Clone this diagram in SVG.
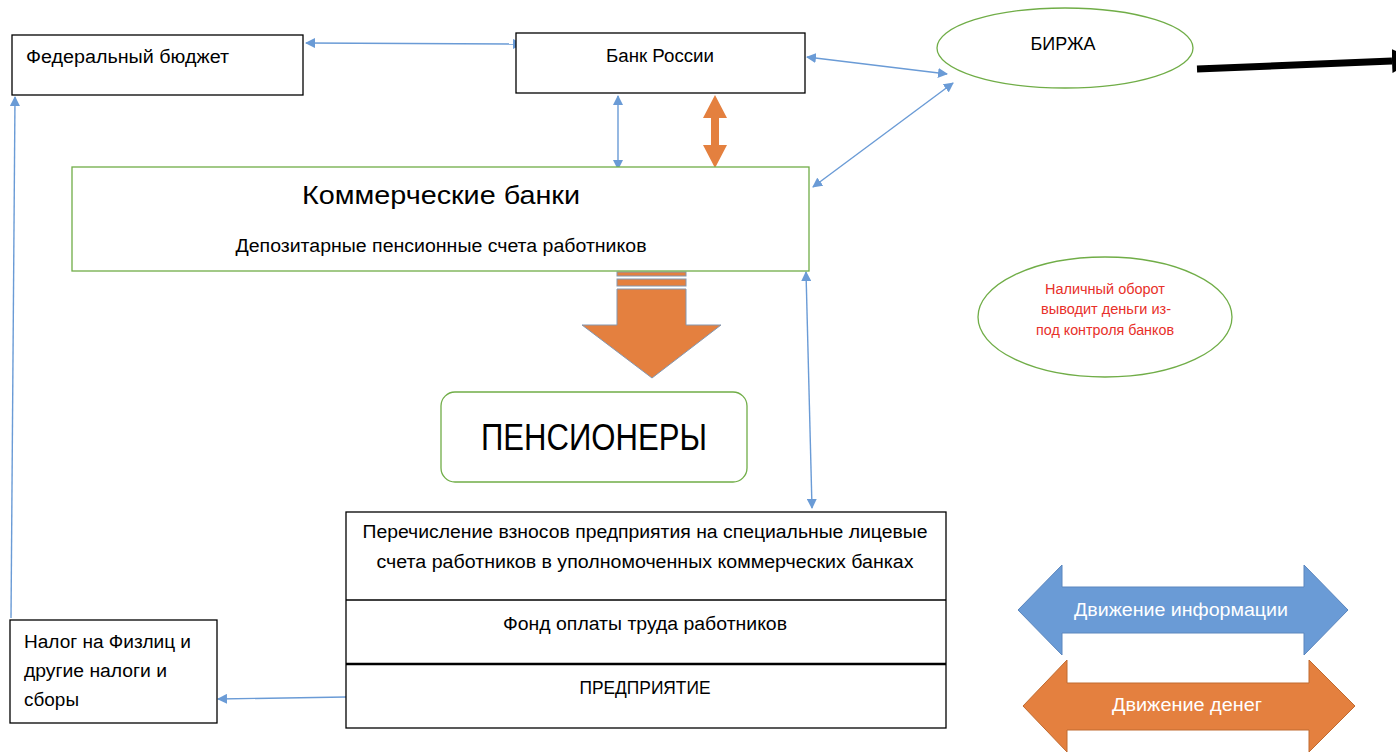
<svg xmlns="http://www.w3.org/2000/svg" width="1396" height="753" viewBox="0 0 1396 753">
<style>
text{font-family:"Liberation Sans",Arial,sans-serif;fill:#000}
.box{fill:#fff;stroke:#000;stroke-width:1.3}
.gbox{fill:#fff;stroke:#70AD47;stroke-width:1.3}
.link{fill:none;stroke:#6A9BD6;stroke-width:1.4}
.lbl{font-size:18px}
.c{text-anchor:middle}
</style>
<defs>
<marker id="ah" viewBox="0 0 10 10" refX="9" refY="5" markerWidth="10" markerHeight="10" markerUnits="userSpaceOnUse" orient="auto-start-reverse">
<path d="M0,0 L10,5 L0,10 Z" fill="#6A9BD6"/>
</marker>
<marker id="bh" viewBox="0 0 10 10" refX="0" refY="5" markerWidth="24" markerHeight="25" markerUnits="userSpaceOnUse" orient="auto">
<path d="M0,0 L10,5 L0,10 Z" fill="#000"/>
</marker>
</defs>
<rect width="1396" height="753" fill="#fff"/>

<g id="connectors">
<line class="link" x1="306" y1="43" x2="522" y2="44" marker-start="url(#ah)" marker-end="url(#ah)"/>
<line class="link" x1="807" y1="57" x2="947" y2="74" marker-start="url(#ah)" marker-end="url(#ah)"/>
<line class="link" x1="813" y1="187" x2="953" y2="83" marker-start="url(#ah)" marker-end="url(#ah)"/>
<line class="link" x1="618" y1="96" x2="618" y2="169" marker-start="url(#ah)" marker-end="url(#ah)"/>
<line class="link" x1="806" y1="272" x2="812" y2="508" marker-start="url(#ah)" marker-end="url(#ah)"/>
<line class="link" x1="11" y1="618" x2="15" y2="97" marker-end="url(#ah)"/>
<line class="link" x1="346" y1="697" x2="218" y2="699" marker-end="url(#ah)"/>
<line x1="1197" y1="69" x2="1392" y2="61" stroke="#000" stroke-width="7" marker-end="url(#bh)"/>
<path d="M703,118 L715,95 L727,118 L719,118 L719,145 L727,145 L715,168 L703,145 L711,145 L711,118 Z" fill="#E4803F"/>
<g id="big-down-arrow" fill="#E4803F" stroke="#8497B0" stroke-width="1">
<rect x="617" y="272" width="69" height="4"/>
<rect x="617" y="279" width="69" height="7"/>
<path d="M617,289 L686,289 L686,325 L721,325 L652,378 L582,325 L617,325 Z"/>
</g>
</g>

<g id="federal-budget">
<rect class="box" x="12" y="35" width="291" height="60"/>
<text class="lbl" x="26" y="63" textLength="203" lengthAdjust="spacingAndGlyphs">Федеральный бюджет</text>
</g>

<g id="bank-russia">
<rect class="box" x="516" y="33" width="289" height="60"/>
<text class="lbl c" x="660" y="62" textLength="108" lengthAdjust="spacingAndGlyphs">Банк России</text>
</g>

<g id="birzha">
<ellipse cx="1065" cy="48" rx="128" ry="40" fill="#fff" stroke="#70AD47" stroke-width="1.3"/>
<text class="lbl c" x="1063" y="50" textLength="65" lengthAdjust="spacingAndGlyphs">БИРЖА</text>
</g>

<g id="commercial-banks">
<rect class="gbox" x="72" y="167" width="737" height="104"/>
<text class="c" x="441" y="204" font-size="26" textLength="278" lengthAdjust="spacingAndGlyphs">Коммерческие банки</text>
<text class="c" x="441" y="252" font-size="18" textLength="411" lengthAdjust="spacingAndGlyphs">Депозитарные пенсионные счета работников</text>
</g>

<g id="pensioners">
<rect class="gbox" x="441" y="392" width="306" height="90" rx="14"/>
<text class="c" x="594" y="450" font-size="36" textLength="226" lengthAdjust="spacingAndGlyphs">ПЕНСИОНЕРЫ</text>
</g>

<g id="cash">
<ellipse cx="1105" cy="317" rx="127" ry="60" fill="#fff" stroke="#70AD47" stroke-width="1.3"/>
<text class="c" x="1105" y="294" font-size="14" style="fill:#E8302A" textLength="120" lengthAdjust="spacingAndGlyphs">Наличный оборот</text>
<text class="c" x="1106" y="314" font-size="14" style="fill:#E8302A" textLength="130" lengthAdjust="spacingAndGlyphs">выводит деньги из-</text>
<text class="c" x="1105" y="335" font-size="14" style="fill:#E8302A" textLength="138" lengthAdjust="spacingAndGlyphs">под контроля банков</text>
</g>

<g id="enterprise">
<rect class="box" x="346" y="512" width="600" height="216"/>
<line x1="346" y1="600" x2="946" y2="600" stroke="#000" stroke-width="1.3"/>
<line x1="346" y1="664" x2="946" y2="664" stroke="#000" stroke-width="2.5"/>
<text class="c" x="645" y="538" font-size="18" textLength="565" lengthAdjust="spacingAndGlyphs">Перечисление взносов предприятия на специальные лицевые</text>
<text class="c" x="645" y="568" font-size="18" textLength="537" lengthAdjust="spacingAndGlyphs">счета работников в уполномоченных коммерческих банках</text>
<text class="c" x="645" y="630" font-size="18" textLength="284" lengthAdjust="spacingAndGlyphs">Фонд оплаты труда работников</text>
<text class="c" x="645" y="694" font-size="18" textLength="131" lengthAdjust="spacingAndGlyphs">ПРЕДПРИЯТИЕ</text>
</g>

<g id="taxes">
<rect class="box" x="10" y="620" width="207" height="103"/>
<text x="24" y="648" font-size="18" textLength="167" lengthAdjust="spacingAndGlyphs">Налог на Физлиц и</text>
<text x="24" y="677" font-size="18" textLength="143" lengthAdjust="spacingAndGlyphs">другие налоги и</text>
<text x="24" y="706" font-size="18" textLength="55" lengthAdjust="spacingAndGlyphs">сборы</text>
</g>

<g id="legend-info">
<path d="M1018,610 L1062,565 L1062,587 L1304,587 L1304,565 L1348,610 L1304,655 L1304,633 L1062,633 L1062,655 Z" fill="#6A9BD6" stroke="#5B86BE" stroke-width="1"/>
<text class="c" x="1181" y="616" font-size="18" style="fill:#fff" textLength="214" lengthAdjust="spacingAndGlyphs">Движение информации</text>
</g>

<g id="legend-money">
<path d="M1023,706 L1067,660 L1067,683 L1309,683 L1309,660 L1355,706 L1309,752 L1309,730 L1067,730 L1067,752 Z" fill="#E4803F" stroke="#C06A30" stroke-width="1"/>
<text class="c" x="1187" y="711" font-size="18" style="fill:#fff" textLength="150" lengthAdjust="spacingAndGlyphs">Движение денег</text>
</g>
</svg>
